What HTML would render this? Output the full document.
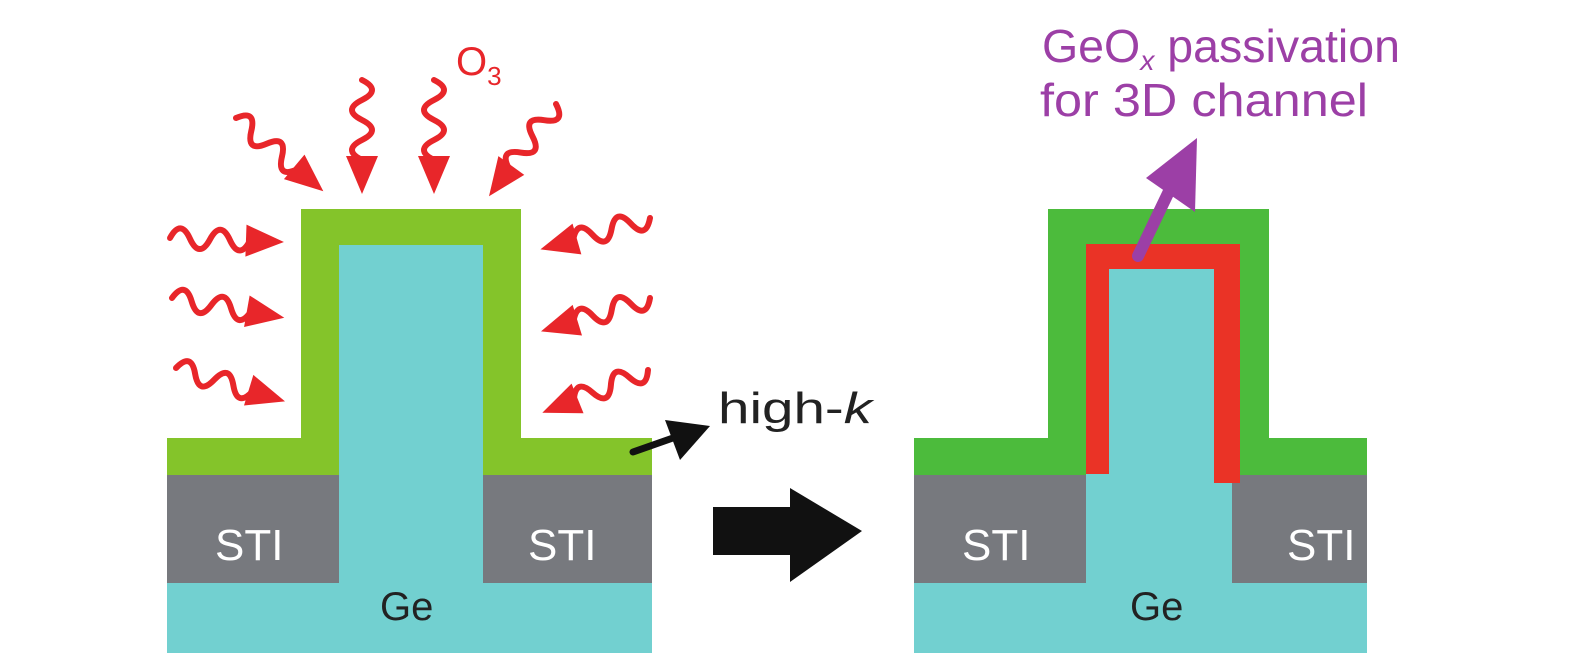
<!DOCTYPE html>
<html><head><style>
body{margin:0;background:#fff;}
svg{display:block;}
text{font-family:"Liberation Sans","DejaVu Sans",sans-serif;}
</style></head><body>
<svg width="1575" height="663" viewBox="0 0 1575 663" xmlns="http://www.w3.org/2000/svg">
<defs>
<g id="wa">
<path d="M0,0 q10,-20 20,0 t20,0 t20,0 t20,0" fill="none" stroke="#e8262a" stroke-width="6" stroke-linecap="round"/>
<polygon points="76,-16 114,0 76,16" fill="#e8262a"/>
</g>
</defs>
<!-- LEFT -->
<rect x="167" y="583" width="485" height="70" fill="#72d0d0"/>
<rect x="167" y="475" width="172" height="108" fill="#77797e"/>
<rect x="483" y="475" width="169" height="108" fill="#77797e"/>
<path d="M167,438 H301 V209 H521 V438 H652 V475 H483 V245 H339 V475 H167 Z" fill="#84c42a"/>
<rect x="339" y="245" width="144" height="338" fill="#72d0d0"/>
<text x="215" y="560" font-size="44" fill="#fff">STI</text>
<text x="528" y="560" font-size="44" fill="#fff">STI</text>
<text x="380" y="620" font-size="40" fill="#222">Ge</text>
<text x="456" y="75" font-size="40" fill="#e8262a">O<tspan font-size="26" dy="10">3</tspan></text>
<use href="#wa" transform="translate(362,80) rotate(90)"/>
<use href="#wa" transform="translate(434,80) rotate(90)"/>
<use href="#wa" transform="translate(236,118) rotate(40)"/>
<use href="#wa" transform="translate(556,104) rotate(126)"/>
<use href="#wa" transform="translate(170,238) rotate(2)"/>
<use href="#wa" transform="translate(172,298) rotate(10)"/>
<use href="#wa" transform="translate(176,368) rotate(17)"/>
<use href="#wa" transform="translate(650,218) rotate(164)"/>
<use href="#wa" transform="translate(650,298) rotate(163)"/>
<use href="#wa" transform="translate(648,370) rotate(158)"/>
<!-- high-k -->
<line x1="633" y1="452" x2="690" y2="432" stroke="#111" stroke-width="7" stroke-linecap="round"/>
<polygon points="665,420 710,426 680,460" fill="#111"/>
<text x="718" y="423" font-size="44" fill="#222" textLength="154" lengthAdjust="spacingAndGlyphs">high-<tspan font-style="italic">k</tspan></text>
<!-- big arrow -->
<rect x="713" y="507" width="80" height="48" fill="#111"/>
<polygon points="790,488 862,531 790,582" fill="#111"/>
<!-- RIGHT -->
<rect x="914" y="583" width="453" height="70" fill="#72d0d0"/>
<rect x="914" y="475" width="172" height="108" fill="#77797e"/>
<rect x="1232" y="475" width="135" height="108" fill="#77797e"/>
<path d="M914,438 H1048 V209 H1269 V438 H1367 V475 H914 Z" fill="#4cbb3c"/>
<rect x="1086" y="470" width="146" height="113" fill="#72d0d0"/>
<path d="M1086,474 V244 H1240 V483 H1214 V269 H1109 V474 Z" fill="#ea3326"/>
<rect x="1109" y="269" width="105" height="314" fill="#72d0d0"/>
<text x="962" y="560" font-size="44" fill="#fff">STI</text>
<text x="1287" y="560" font-size="44" fill="#fff">STI</text>
<text x="1130" y="620" font-size="40" fill="#222">Ge</text>
<line x1="1138" y1="256" x2="1172" y2="185" stroke="#9c3fa6" stroke-width="12" stroke-linecap="round"/>
<polygon points="1146,178 1197,138 1195,212" fill="#9c3fa6"/>
<text x="1042" y="62" font-size="46" fill="#9c3fa6" textLength="358" lengthAdjust="spacingAndGlyphs">GeO<tspan font-style="italic" font-size="28" dy="8">x</tspan><tspan dy="-8"> passivation</tspan></text>
<text x="1040" y="116" font-size="46" fill="#9c3fa6" textLength="328" lengthAdjust="spacingAndGlyphs">for 3D channel</text>
</svg>
</body></html>
